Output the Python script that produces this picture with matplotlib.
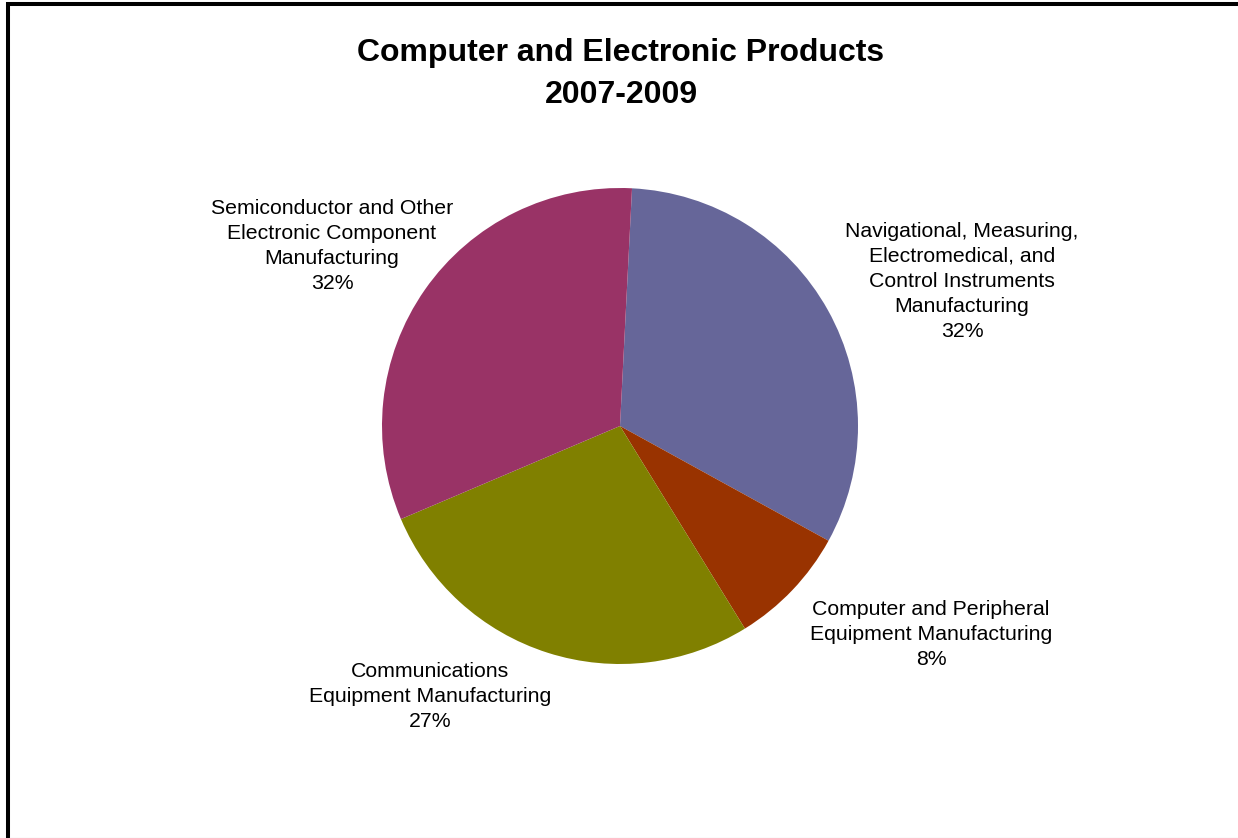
import matplotlib.pyplot as plt
from matplotlib.patches import Rectangle
from matplotlib.lines import Line2D

plt.rcParams['font.family'] = ['Liberation Sans', 'DejaVu Sans']

# Data (shares, clockwise from the top)
categories = [
    'Navigational, Measuring,\nElectromedical, and\nControl Instruments\nManufacturing',
    'Computer and Peripheral\nEquipment Manufacturing',
    'Communications\nEquipment Manufacturing',
    'Semiconductor and Other\nElectronic Component\nManufacturing',
]
shares = [32.2, 8.2, 27.4, 32.2]
colors = ['#666699', '#993300', '#808000', '#993366']

# label centres in pie units (radius = 1)
label_pos = [(1.437, 0.609), (1.307, -0.875), (-0.798, -1.138), (-1.210, 0.757)]

W, H = 1238, 838
cx, cy, r = 620, 426, 238   # pie centre and radius in pixels

fig = plt.figure(figsize=(W / 100, H / 100), dpi=100)
ax = fig.add_axes([0, 0, 1, 1])

ax.pie(shares, colors=colors, startangle=87.1, counterclock=False,
       radius=1, wedgeprops=dict(linewidth=0))

total = sum(shares)
for name, val, (x, y) in zip(categories, shares, label_pos):
    ax.text(x, y, f'{name}\n{val / total * 100:.0f}%', ha='center', va='center',
            fontsize=15.3, linespacing=1.4, multialignment='center')

ax.set_xlim(-cx / r, (W - cx) / r)
ax.set_ylim(-(H - cy) / r, cy / r)
ax.set_aspect('auto')
ax.axis('off')

fig.text(621 / W, 1 - 74 / H, 'Computer and Electronic Products\n2007-2009',
         ha='center', va='center', fontsize=23, fontweight='bold', linespacing=1.5)

# chart frame: only left and top edges are visible in the crop
fig.add_artist(Rectangle((8 / W, -0.05), 1.2, 1.05 - 4 / H, transform=fig.transFigure,
                         fill=False, edgecolor='black', linewidth=2.9))
fig.add_artist(Line2D([10 / W, 1], [0.5 / H, 0.5 / H], transform=fig.transFigure,
                      color='#eeeeee', linewidth=1))

fig.savefig('out.png', dpi=100, facecolor='white')
